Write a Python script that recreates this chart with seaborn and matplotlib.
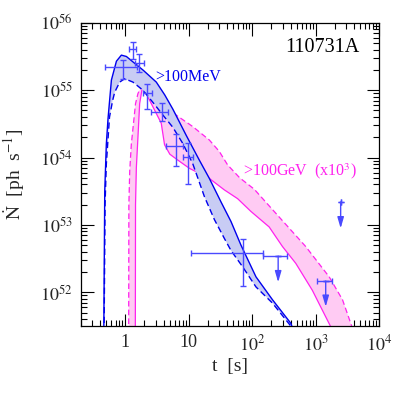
import numpy as np
import seaborn as sns
import matplotlib
matplotlib.use('Agg')
import matplotlib.pyplot as plt

sns.set_theme(style='ticks')
plt.rcParams['font.family'] = ['Liberation Serif', 'DejaVu Serif']
plt.rcParams['mathtext.fontset'] = 'stix'

# model curves as log10(t [s]) / log10(Ndot [ph/s])
lat_hi_logt = [-0.34, -0.325, -0.30, -0.273, -0.22, -0.141, -0.063, 0.016, 0.119, 0.276,
               0.487, 0.62, 0.747, 0.958, 1.166, 1.323, 1.507, 1.664, 1.821, 2.057, 2.317, 2.606, 2.64]
lat_hi_logN = [51.4, 53.5, 54.2, 54.58, 55.15, 55.43, 55.52, 55.50, 55.42, 55.30,
               55.12, 54.93, 54.72, 54.33, 53.96, 53.69, 53.34, 53.05, 52.70, 52.23, 51.89, 51.54, 51.45]
lat_lo_logt = [-0.335, -0.32, -0.30, -0.25, -0.2, -0.168, -0.089, -0.011, 0.119, 0.276,
               0.45, 0.60, 0.747, 0.904, 1.061, 1.245, 1.402, 1.559, 1.664, 1.846, 2.057, 2.317, 2.58, 2.64]
lat_lo_logN = [51.4, 53.3, 53.9, 54.6, 54.85, 54.97, 55.12, 55.17, 55.12, 55.0,
               54.80, 54.62, 54.45, 54.21, 53.91, 53.42, 53.08, 52.80, 52.62, 52.38, 52.08, 51.84, 51.53, 51.45]

vhe_hi_logt = [0.052, 0.055, 0.069, 0.094, 0.16, 0.198, 0.25, 0.5, 0.80, 1.061, 1.323, 1.48,
               1.611, 1.8, 2.03, 2.42, 2.84, 3.21, 3.42, 3.55, 3.6]
vhe_hi_logN = [51.4, 53.3, 53.81, 54.2, 54.8, 54.95, 55.05, 54.88, 54.63, 54.46, 54.26, 54.09,
               53.89, 53.70, 53.53, 53.12, 52.68, 52.23, 51.89, 51.54, 51.4]
vhe_lo_logt = [0.157, 0.16, 0.173, 0.198, 0.225, 0.26, 0.29, 0.565, 0.617, 0.70, 0.80, 0.904,
               1.009, 1.323, 1.559, 1.768, 1.978, 2.265, 2.474, 2.684, 2.945, 3.10, 3.234, 3.25]
vhe_lo_logN = [51.4, 53.3, 53.85, 54.3, 54.8, 55.0, 55.02, 54.51, 54.19, 54.05, 53.98, 53.91,
               53.84, 53.69, 53.52, 53.39, 53.20, 52.97, 52.68, 52.43, 52.03, 51.74, 51.49, 51.4]

# LAT data points
pt_t = np.array([0.92, 1.32, 1.64, 2.21, 3.80, 6.31, 9.62, 70.1])
pt_tlo = np.array([0.47, 1.14, 1.40, 1.89, 2.56, 4.41, 8.02, 10.9])
pt_thi = np.array([1.52, 1.49, 1.94, 2.62, 4.67, 8.22, 11.5, 145.0])
pt_N = np.array([2.19e55, 4.03e55, 2.57e55, 8.98e54, 4.73e54, 1.50e54, 1.03e54, 3.79e52])
pt_Nlo = np.array([1.45e55, 2.86e55, 1.84e55, 5.30e54, 3.52e54, 7.55e53, 4.05e53, 1.25e52])
pt_Nhi = np.array([2.82e55, 5.13e55, 3.39e55, 1.22e55, 6.37e54, 2.21e54, 1.62e54, 6.17e52])

# upper limits
ul_t = np.array([255.0, 1430.0, 2460.0])
ul_tlo = np.array([145.0, 1056.0, 2460.0])
ul_thi = np.array([357.0, 1820.0, 2460.0])
ul_N = np.array([3.45e52, 1.47e52, 2.2e53])
ul_Ntip = np.array([1.41e52, 6.1e51, 8.9e52])

xticks = [1, 10, 100, 1000, 10000]
xtick_labels = ['1', '10', '$10^2$', '$10^3$', '$10^4$']
yticks = [1e52, 1e53, 1e54, 1e55, 1e56]
ytick_labels = ['$10^{52}$', '$10^{53}$', '$10^{54}$', '$10^{55}$', '$10^{56}$']

blue = '#0000ee'
blue_fill = '#c8ccf4'
mag = '#ff22ee'
mag_fill = '#ffcbf3'
pt_col = '#4a4aff'

fig = plt.figure(figsize=(4.07, 4.07), dpi=100)
ax = fig.add_axes([0.199, 0.199, 0.733, 0.745])
ax.set_xscale('log')
ax.set_yscale('log')


def p(a):
    return 10 ** np.asarray(a, dtype=float)


# >100 GeV band
ax.fill(np.concatenate([p(vhe_hi_logt), p(vhe_lo_logt)[::-1]]),
        np.concatenate([p(vhe_hi_logN), p(vhe_lo_logN)[::-1]]),
        color=mag_fill, lw=0, zorder=1)
sns.lineplot(x=p(vhe_hi_logt), y=p(vhe_hi_logN), sort=False, estimator=None, ax=ax,
             color=mag, lw=0.9, linestyle=(0, (4.5, 2.5)), zorder=2)
sns.lineplot(x=p(vhe_lo_logt), y=p(vhe_lo_logN), sort=False, estimator=None, ax=ax,
             color=mag, lw=0.9, zorder=2)

# >100 MeV band
ax.fill(np.concatenate([p(lat_hi_logt), p(lat_lo_logt)[::-1]]),
        np.concatenate([p(lat_hi_logN), p(lat_lo_logN)[::-1]]),
        color=blue_fill, lw=0, zorder=3)
sns.lineplot(x=p(lat_hi_logt), y=p(lat_hi_logN), sort=False, estimator=None, ax=ax,
             color=blue, lw=1.0, zorder=4)
sns.lineplot(x=p(lat_lo_logt), y=p(lat_lo_logN), sort=False, estimator=None, ax=ax,
             color=blue, lw=1.0, linestyle=(0, (4.5, 2.5)), zorder=4)

# data points
ax.errorbar(pt_t, pt_N, xerr=[pt_t - pt_tlo, pt_thi - pt_t], yerr=[pt_N - pt_Nlo, pt_Nhi - pt_N],
            fmt='none', ecolor=pt_col, elinewidth=1.0, capsize=2.0, capthick=1.0, zorder=5)
ax.errorbar(ul_t, ul_N, xerr=[ul_t - ul_tlo, ul_thi - ul_t], yerr=0, fmt='none',
            ecolor=pt_col, elinewidth=1.0, capsize=2.0, capthick=1.0, zorder=5)
for t, n0, n1 in zip(ul_t, ul_N, ul_Ntip):
    ax.annotate('', xy=(t, n1), xytext=(t, n0),
                arrowprops=dict(arrowstyle='-|>,head_length=0.55,head_width=0.16',
                                color=pt_col, lw=1.0, shrinkA=0, shrinkB=0), zorder=5)

ax.set_xlim(0.2, 1e4)
ax.set_ylim(10 ** 51.5, 1e56)
ax.set_xticks(xticks)
ax.set_xticklabels(xtick_labels)
ax.set_yticks(yticks)
ax.set_yticklabels(ytick_labels)
ax.tick_params(which='both', direction='in', top=True, right=True, labelsize=13,
               pad=6, color='black')
ax.tick_params(which='major', length=9, width=0.8)
ax.tick_params(which='minor', length=4.5, width=0.8)
for s in ax.spines.values():
    s.set_linewidth(0.9)
    s.set_color('black')

ax.set_xlabel('t  [s]', fontsize=14)
ax.set_ylabel(r'$\dot{\mathrm{N}}$  [ph  s$^{-1}$]', fontsize=14)
ax.xaxis.set_label_coords(0.5, -0.105)
ax.yaxis.set_label_coords(-0.18, 0.5)

ax.text(0.935, 0.917, '110731A', transform=ax.transAxes, ha='right', va='center',
        fontsize=14.5, color='black')
ax.text(2.99, 1.56e55, '>100MeV', ha='left', va='center', fontsize=11.5, color=blue)
ax.text(70.2, 6.3e53, '>100GeV  (x10$^3$)', ha='left', va='center', fontsize=11.5, color=mag)

fig.savefig('out.png', dpi=100)
